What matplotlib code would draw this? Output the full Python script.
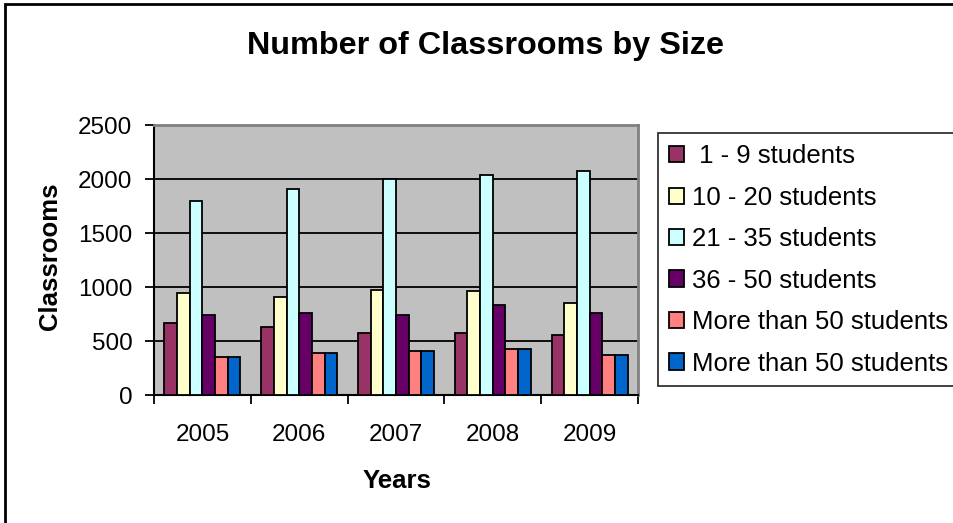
import matplotlib
matplotlib.use("Agg")
import matplotlib.pyplot as plt
from matplotlib.patches import Rectangle
import numpy as np

plt.rcParams['font.family'] = ['Liberation Sans', 'DejaVu Sans']

# ---- data ----
years = ['2005', '2006', '2007', '2008', '2009']
labels = [' 1 - 9 students', '10 - 20 students', '21 - 35 students',
          '36 - 50 students', 'More than 50 students', 'More than 50 students']
s_1_9 = [667, 627, 574, 574, 556]
s_10_20 = [941, 905, 975, 960, 852]
s_21_35 = [1796, 1907, 1997, 2037, 2074]
s_36_50 = [738, 759, 738, 833, 759]
s_50a = [349, 386, 404, 423, 368]
s_50b = [349, 386, 404, 423, 368]
series = [s_1_9, s_10_20, s_21_35, s_36_50, s_50a, s_50b]
colors = ['#993366', '#FFFFCC', '#CCFFFF', '#660066', '#FF8080', '#0066CC']

W, H = 954, 523
fig = plt.figure(figsize=(W / 100, H / 100), dpi=100)
ax = fig.add_axes([154 / W, 1 - 395 / H, (638 - 154) / W, (395 - 125) / H])

x = np.arange(len(years))
bw = 0.131
for i, (vals, c, lab) in enumerate(zip(series, colors, labels)):
    ax.bar(x + (i - 2.5) * bw, vals, bw, color=c, edgecolor='black',
           linewidth=1.3, label=lab, zorder=3)

ax.set_facecolor('#C0C0C0')
ax.set_xlim(-0.5, 4.5)
ax.set_ylim(0, 2500)
ax.set_yticks(np.arange(0, 2501, 500))
ax.yaxis.grid(True, color='black', linewidth=1.3)
ax.set_axisbelow(True)

# category ticks at the boundaries, labels in the middle
ax.set_xticks(np.arange(-0.5, 5, 1))
ax.set_xticklabels([])
ax.set_xticks(x, minor=True)
ax.set_xticklabels(years, minor=True)
ax.tick_params(axis='x', which='major', direction='out', length=6.5, width=1.3)
ax.tick_params(axis='x', which='minor', length=0, pad=21, labelsize=17.5)
ax.tick_params(axis='y', direction='out', length=6.5, width=1.3, pad=9, labelsize=17.5)

for s in ['left', 'bottom']:
    ax.spines[s].set_color('black')
    ax.spines[s].set_linewidth(1.5)
for s in ['top', 'right']:
    ax.spines[s].set_color('#808080')
    ax.spines[s].set_linewidth(2)

fig.text(485.5 / W, 1 - 54 / H, 'Number of Classrooms by Size', ha='center',
         va='baseline', fontsize=23.3, fontweight='bold')
fig.text(56.7 / W, 1 - 256.7 / H, 'Classrooms', ha='center', va='baseline',
         rotation=90, rotation_mode='anchor', fontsize=18.5, fontweight='bold')
fig.text(397 / W, 1 - 488 / H, 'Years', ha='center', va='baseline',
         fontsize=18.5, fontweight='bold')

leg = fig.legend(loc='upper left', bbox_to_anchor=(658 / W, 1 - 133.5 / H),
                 fontsize=18.5, frameon=True, fancybox=False, borderaxespad=0,
                 handlelength=0.6, handleheight=0.6, handletextpad=0.3,
                 labelspacing=0.68, borderpad=0.42)
leg.get_frame().set_edgecolor('black')
leg.get_frame().set_linewidth(1.3)

# outer chart border (left and top edges visible, rest is cropped)
fig.patches.append(Rectangle((5 / W, -0.05), 1.2, 1 - 3.5 / H + 0.05,
                             transform=fig.transFigure, fill=False,
                             edgecolor='black', linewidth=2))

fig.savefig('out.png', dpi=100)
